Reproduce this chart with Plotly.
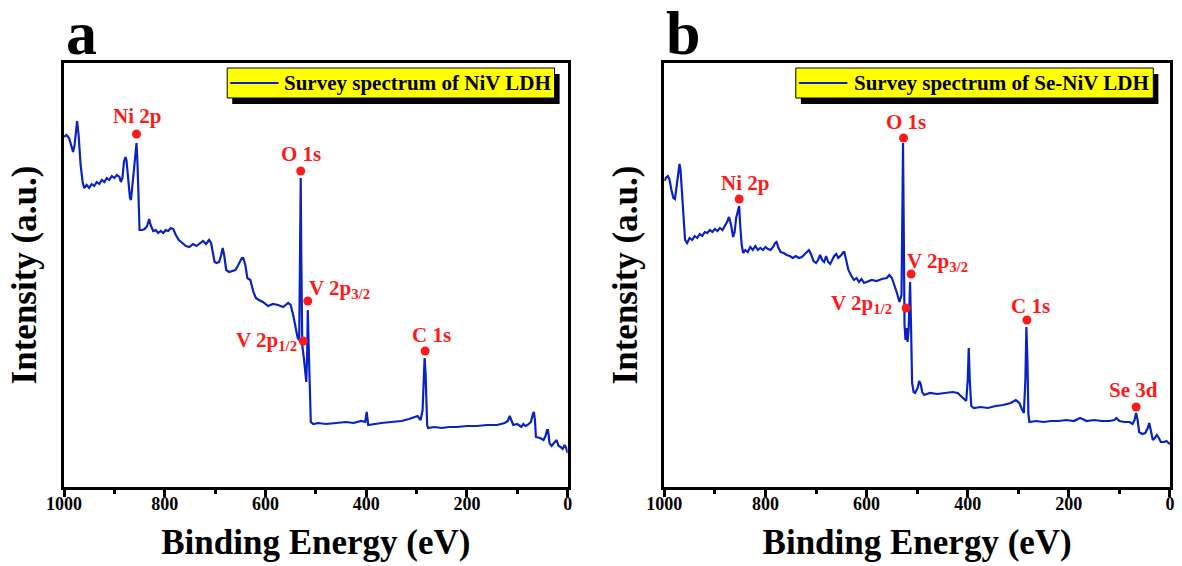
import plotly.graph_objects as go

# ---------------- data: panel a (NiV LDH) ----------------
be_a = [1000, 995, 990, 985, 982, 979, 976, 974, 971, 967, 963, 960, 955, 950, 945, 940, 935, 930, 925, 920,
        915, 910, 905, 900, 895, 890, 887, 884, 881, 878, 876, 873, 869, 867, 864, 861, 858, 856, 854, 852,
        850, 845, 840, 835, 831, 828, 823, 818, 813, 808, 803, 798, 793, 788, 783, 778, 772, 765, 758, 751,
        744, 737, 730, 724, 718, 712, 708, 704, 701, 697, 692, 688, 685, 682, 678, 672, 666, 660, 655, 651,
        647, 644, 640, 636, 630, 624, 619, 613, 605, 595, 585, 575, 565, 555, 550, 545, 540, 536, 533, 531,
        530, 529, 527, 524, 521, 519, 517, 516, 514, 512, 510, 505, 495, 480, 460, 440, 425, 410, 402, 399,
        396, 385, 370, 350, 330, 315, 305, 298, 292, 288, 285, 284, 282, 279, 277, 265, 250, 235, 220, 200,
        180, 160, 140, 125, 119, 115, 112, 108, 100, 92, 88, 84, 80, 73, 69, 67, 65, 63, 55, 48,
        44, 41, 39, 36, 32, 26, 22, 18, 14, 10, 6, 3, 0]
int_a = [350, 352, 349, 339, 335, 342, 362, 366, 352, 322, 305, 299, 302, 299, 303, 301, 305, 303, 307, 305,
         309, 307, 311, 309, 312, 310, 305, 309, 325, 330, 327, 307, 289, 287, 302, 322, 337, 344, 322, 282,
         257, 257, 258, 261, 268, 262, 256, 257, 254, 256, 254, 257, 256, 259, 258, 252, 247, 244, 241, 240,
         243, 241, 244, 246, 243, 247, 244, 235, 225, 224, 225, 232, 239, 232, 217, 215, 216, 217, 221, 225,
         229, 229, 222, 209, 207, 195, 189, 187, 185, 181, 183, 182, 180, 184, 182, 172, 159, 149, 147, 237,
         309, 237, 142, 130, 117, 105, 137, 177, 137, 87, 65, 63, 64, 63, 64, 65, 64, 66, 65, 75,
         62, 63, 64, 65, 66, 68, 70, 71, 67, 77, 117, 129, 112, 62, 59, 60, 59, 60, 60, 61,
         61, 62, 62, 64, 66, 71, 67, 62, 63, 60, 63, 61, 62, 65, 73, 75, 67, 50, 49, 47,
         51, 57, 57, 44, 41, 45, 47, 41, 40, 38, 42, 39, 34]

# ---------------- data: panel b (Se-NiV LDH) ----------------
be_b = [1000, 997, 993, 990, 986, 982, 979, 976, 972, 970, 968, 965, 962, 959, 955, 950, 945, 940, 935, 930,
        925, 920, 915, 910, 905, 900, 895, 890, 885, 880, 876, 872, 868, 864, 861, 858, 855, 852, 850, 847,
        844, 840, 835, 830, 825, 820, 815, 810, 805, 800, 795, 790, 785, 781, 778, 775, 770, 764, 758, 752,
        746, 740, 734, 728, 722, 718, 714, 710, 705, 700, 696, 692, 688, 684, 680, 676, 672, 668, 664, 660,
        656, 650, 646, 644, 640, 636, 630, 625, 620, 615, 610, 605, 600, 590, 580, 570, 560, 555, 550, 545,
        540, 535, 531, 529, 528, 527, 525, 523, 521, 519, 517, 515, 514, 512, 510, 507, 504, 499, 496, 493,
        490, 486, 475, 460, 445, 430, 420, 414, 409, 403, 400, 398, 396, 393, 388, 375, 360, 345, 330, 315,
        305, 298, 293, 289, 286, 284, 282, 280, 278, 265, 250, 235, 220, 205, 190, 178, 173, 165, 150, 135,
        120, 110, 106, 100, 90, 80, 74, 70, 67, 64, 61, 55, 49, 44, 41, 38, 34, 30, 26, 22,
        18, 12, 7, 3, 0]
int_b = [306, 309, 311, 308, 297, 289, 288, 302, 319, 323, 317, 292, 262, 247, 244, 249, 247, 251, 249, 253,
         251, 255, 254, 257, 255, 258, 256, 259, 257, 261, 265, 270, 262, 250, 255, 269, 277, 281, 262, 242,
         234, 237, 235, 240, 237, 241, 237, 239, 237, 240, 238, 237, 240, 244, 245, 240, 235, 234, 232, 231,
         229, 231, 229, 230, 233, 235, 237, 233, 226, 224, 227, 232, 227, 225, 231, 225, 223, 227, 231, 233,
         229, 232, 235, 235, 225, 217, 211, 207, 209, 205, 208, 204, 205, 207, 206, 208, 209, 212, 209, 202,
         194, 185, 192, 287, 344, 287, 162, 147, 159, 145, 157, 187, 205, 157, 104, 95, 94, 99, 106, 103,
         95, 92, 94, 93, 94, 95, 94, 91, 89, 86, 107, 139, 107, 81, 79, 80, 79, 81, 82, 84,
         87, 84, 78, 74, 107, 160, 127, 72, 65, 66, 65, 66, 66, 67, 66, 69, 68, 66, 67, 66,
         66, 67, 69, 66, 65, 65, 63, 67, 74, 67, 55, 53, 54, 59, 64, 55, 47, 49, 52, 49,
         45, 45, 46, 44, 43]

# ---------------- peak labels ----------------
lab_a = ["Ni 2p", "O 1s", "V 2p<sub>3/2</sub>", "V 2p<sub>1/2</sub>", "C 1s"]
lab_a_be = [856, 530, 516, 525, 283]
lab_a_int = [353, 316, 186, 146, 136]

lab_b = ["Ni 2p", "O 1s", "V 2p<sub>3/2</sub>", "V 2p<sub>1/2</sub>", "C 1s", "Se 3d"]
lab_b_be = [852, 527, 512, 522, 283, 67]
lab_b_int = [288, 349, 213, 179, 167, 80]

legend_a = "Survey spectrum of NiV LDH"
legend_b = "Survey spectrum of Se-NiV LDH"
x_ticks = [0, 200, 400, 600, 800, 1000]

LINE = "#0A22C4"
RED = "#FF1A1A"
FONT = "Liberation Serif, Times New Roman, serif"

fig = go.Figure()
fig.add_trace(go.Scatter(x=be_a, y=int_a, mode="lines", line=dict(color=LINE, width=2.2),
                         name=legend_a, xaxis="x", yaxis="y", showlegend=False))
fig.add_trace(go.Scatter(x=be_b, y=int_b, mode="lines", line=dict(color=LINE, width=2.2),
                         name=legend_b, xaxis="x2", yaxis="y2", showlegend=False))
fig.add_trace(go.Scatter(x=lab_a_be, y=lab_a_int, mode="markers", marker=dict(color=RED, size=9),
                         xaxis="x", yaxis="y", showlegend=False, hoverinfo="skip"))
fig.add_trace(go.Scatter(x=lab_b_be, y=lab_b_int, mode="markers", marker=dict(color=RED, size=9),
                         xaxis="x2", yaxis="y2", showlegend=False, hoverinfo="skip"))

axis_common = dict(
    showline=True, linecolor="black", linewidth=3, mirror=True,
    ticks="outside", ticklen=7, tickwidth=3, tickcolor="black",
    tickfont=dict(family=FONT, size=18, color="black", weight="bold"),
    ticklabelstandoff=-9,
    range=[1000, 0], tickvals=x_ticks, showgrid=False, zeroline=False,
    minor=dict(ticks="outside", ticklen=4, tickwidth=3, tickcolor="black", dtick=100, tick0=0, showgrid=False),
    title=dict(text="Binding Energy (eV)", font=dict(family=FONT, size=35, color="black", weight="bold"),
               standoff=17),
)
yaxis_common = dict(
    showline=True, linecolor="black", linewidth=3, mirror=True,
    ticks="", showticklabels=False, range=[0, 424], showgrid=False, zeroline=False,
    title=dict(text="Intensity (a.u.)", font=dict(family=FONT, size=35, color="black", weight="bold"),
               standoff=14),
)

fig.update_layout(
    width=1182, height=566,
    margin=dict(l=64, r=7, t=63, b=79),
    plot_bgcolor="white", paper_bgcolor="white",
    xaxis=dict(domain=[0, 0.4554], anchor="y", **axis_common),
    yaxis=dict(domain=[0, 1], anchor="x", **yaxis_common),
    xaxis2=dict(domain=[0.5428, 1], anchor="y2", **axis_common),
    yaxis2=dict(domain=[0, 1], anchor="x2", **yaxis_common),
    showlegend=False,
)

annotations = []
shapes = []

LABEL_FONT = dict(family=FONT, size=21, color=RED, weight="bold")

# label offsets (xanchor, xshift, yshift)
offs_a = [("center", 0, 18), ("center", 0, 17), ("left", -1, 12), ("right", -4, 0), ("center", 6, 16)]
offs_b = [("center", 6, 16), ("center", 2, 16), ("left", -6, 12), ("right", -12, 4), ("center", 4, 14), ("center", -3, 17)]

for (txt, bx, iy, (xa, xs, ys)) in zip(lab_a, lab_a_be, lab_a_int, offs_a):
    annotations.append(dict(x=bx, y=iy, xref="x", yref="y", text=txt, showarrow=False,
                            xanchor=xa, yanchor="middle", xshift=xs, yshift=ys, font=LABEL_FONT))
for (txt, bx, iy, (xa, xs, ys)) in zip(lab_b, lab_b_be, lab_b_int, offs_b):
    annotations.append(dict(x=bx, y=iy, xref="x2", yref="y2", text=txt, showarrow=False,
                            xanchor=xa, yanchor="middle", xshift=xs, yshift=ys, font=LABEL_FONT))

# legend boxes (drawn manually to reproduce the shadowed yellow box)
for xr, yr, x0, x1, text in [("x", "y", 676, 26, legend_a), ("x2", "y2", 740, 33, legend_b)]:
    dx = 10  # shadow offset in data units (~5 px)
    shapes.append(dict(type="rect", xref=xr, yref=yr, x0=x0 - dx, x1=x1 - dx, y0=383, y1=413,
                       fillcolor="black", line=dict(width=0), layer="above"))
    shapes.append(dict(type="rect", xref=xr, yref=yr, x0=x0, x1=x1, y0=389, y1=419,
                       fillcolor="#FFFF00", line=dict(color="black", width=1), layer="above"))
    shapes.append(dict(type="line", xref=xr, yref=yr, x0=x0 - 6, x1=x0 - 102, y0=404, y1=404,
                       line=dict(color=LINE, width=2), layer="above"))
    annotations.append(dict(x=x1 + 4, y=404, xref=xr, yref=yr, text=text, showarrow=False,
                            xanchor="right", yanchor="middle",
                            font=dict(family=FONT, size=21, color="black", weight="bold")))

# panel letters
annotations.append(dict(x=0.016, y=1.0, xref="paper", yref="paper", yshift=30, text="a",
                        showarrow=False, xanchor="center", yanchor="middle",
                        font=dict(family=FONT, size=62, color="black", weight="bold")))
annotations.append(dict(x=0.560, y=1.0, xref="paper", yref="paper", yshift=30, text="b",
                        showarrow=False, xanchor="center", yanchor="middle",
                        font=dict(family=FONT, size=62, color="black", weight="bold")))

fig.update_layout(annotations=annotations, shapes=shapes)
fig.write_html("out.html")
